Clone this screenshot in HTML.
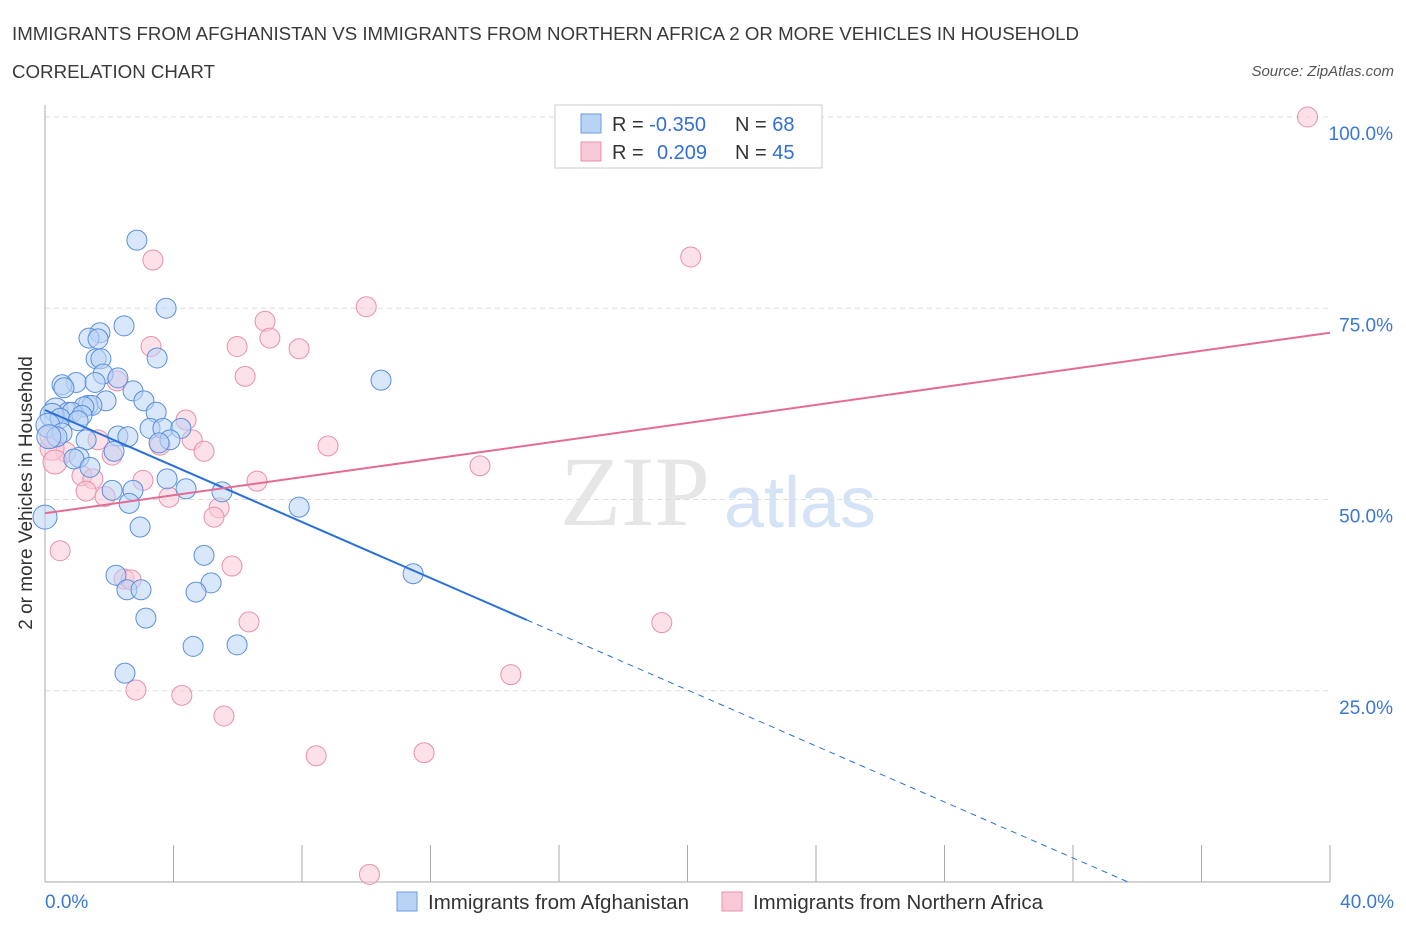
<!DOCTYPE html>
<html><head><meta charset="utf-8"><style>
body{margin:0;background:#fff;font-family:"Liberation Sans",sans-serif}
</style></head><body>
<svg width="1406" height="930" xmlns="http://www.w3.org/2000/svg">
<text x="12" y="40" font-size="18" fill="#3a3a3a" textLength="1067" lengthAdjust="spacingAndGlyphs">IMMIGRANTS FROM AFGHANISTAN VS IMMIGRANTS FROM NORTHERN AFRICA 2 OR MORE VEHICLES IN HOUSEHOLD</text>
<text x="12" y="78" font-size="18" fill="#3a3a3a" textLength="203" lengthAdjust="spacingAndGlyphs">CORRELATION CHART</text>
<text x="1394" y="76" font-size="15" font-style="italic" fill="#555" text-anchor="end">Source: ZipAtlas.com</text>
<text x="635" y="525" font-size="100" font-family="Liberation Serif" fill="#e6e6e6" text-anchor="middle">ZIP</text>
<text x="800" y="527" font-size="72" fill="#d4e3f5" text-anchor="middle">atlas</text>
<g id="grid"></g>
<line x1="45" y1="105" x2="45" y2="882" stroke="#aaa"/>
<line x1="45" y1="882" x2="1330" y2="882" stroke="#aaa"/>
<g id="xticks"></g>
<text x="32" y="493" font-size="19" fill="#333" text-anchor="middle" transform="rotate(-90 32 493)">2 or more Vehicles in Household</text>
<text x="45" y="908" font-size="19" fill="#3a78d0" text-anchor="start">0.0%</text>
<text x="1394" y="908" font-size="19" fill="#3a78d0" text-anchor="end">40.0%</text>
<g id="pts"></g>
<g id="lines"></g>
<g>
<rect x="555" y="105" width="267" height="63" fill="#fff" stroke="#ccc"/>
<rect x="581" y="114" width="20" height="19" fill="#b9d3f5" stroke="#6a9be0"/>
<rect x="581" y="142" width="20" height="19" fill="#f9c9d7" stroke="#e890ab"/>
<text x="612" y="131" font-size="20" fill="#333">R = <tspan fill="#2f6fd6">-0.350</tspan></text>
<text x="735" y="131" font-size="20" fill="#333">N = <tspan fill="#2f6fd6">68</tspan></text>
<text x="612" y="159" font-size="20" fill="#333">R = <tspan fill="#2f6fd6" x="657">0.209</tspan></text>
<text x="735" y="159" font-size="20" fill="#333">N = <tspan fill="#2f6fd6">45</tspan></text>
</g>
<g>
<rect x="397" y="892" width="20" height="19" fill="#b9d3f5" stroke="#6a9be0"/>
<text x="428" y="909" font-size="20" fill="#333" textLength="261" lengthAdjust="spacingAndGlyphs">Immigrants from Afghanistan</text>
<rect x="722" y="892" width="20" height="19" fill="#f9c9d7" stroke="#e890ab"/>
<text x="753" y="909" font-size="20" fill="#333" textLength="290" lengthAdjust="spacingAndGlyphs">Immigrants from Northern Africa</text>
</g>
</svg>
<script>
const yTicks=[25,50,75,100];
const yTickLabels=["25.0%","50.0%","75.0%","100.0%"];
const xTicks=[0,4,8,12,16,20,24,28,32,36,40];
const blueX=[2.86,3.77,2.46,1.71,1.37,1.65,1.59,1.74,3.49,1.81,2.27,0.97,1.56,0.53,0.59,2.74,1.90,3.08,1.34,1.46,1.21,0.34,0.72,0.84,3.46,1.15,0.22,0.47,1.03,0.09,3.27,3.67,4.23,0.53,2.27,0.37,0.12,2.58,1.28,3.89,3.55,2.15,1.06,0.90,1.40,3.80,4.39,2.09,2.74,5.51,2.62,7.91,0,2.96,4.95,2.21,11.46,5.17,2.55,2.99,4.70,3.14,4.61,5.98,2.49,10.46];
const blueY=[83.9,75.0,72.7,71.8,71.1,71.0,68.4,68.4,68.5,66.4,65.9,65.3,65.3,65.0,64.6,64.2,62.9,62.9,62.3,62.3,62.1,61.7,61.4,61.4,61.4,61.0,61.0,60.6,60.3,59.7,59.3,59.3,59.3,58.7,58.3,58.2,58.2,58.2,57.8,57.8,57.4,56.3,55.5,55.3,54.2,52.7,51.4,51.2,51.2,51.0,49.5,49.0,47.7,46.4,42.7,40.1,40.3,39.1,38.2,38.2,37.9,34.5,30.8,31.0,27.3,65.6];
const pinkX=[39.3,3.36,20.1,10.0,6.85,3.30,5.98,7.0,7.91,6.23,2.24,4.39,1.65,4.58,3.58,8.81,4.95,2.09,0.65,0.22,0.31,13.54,1.15,1.49,3.05,6.60,1.28,1.87,3.86,5.42,5.26,0.47,5.82,2.46,2.68,6.35,19.2,14.5,2.83,4.26,5.57,8.44,11.8,10.1,0.22];
const pinkY=[100,81.3,81.7,75.2,73.3,70.0,70.0,71.1,69.7,66.1,65.5,60.4,57.8,57.8,57.1,57.0,56.3,55.8,56.2,56.7,54.9,54.4,53.1,52.7,52.5,52.4,51.1,50.4,50.3,48.9,47.7,43.3,41.3,39.6,39.5,34.0,33.9,27.1,25.1,24.4,21.7,16.5,16.9,1.0,58.3];
const blueFit=[61.7,-1.83];
const pinkFit=[48.2,0.59];
const NS="http://www.w3.org/2000/svg";
const sx=v=>45+v/40*1285, sy=v=>882-v*7.65;
function mk(t,a,p){const e=document.createElementNS(NS,t);for(const k in a)e.setAttribute(k,a[k]);document.getElementById(p).appendChild(e);return e;}
yTicks.forEach((t,i)=>{
 const l=mk('line',{x1:45,x2:1330,y1:sy(t),y2:sy(t),stroke:'#ddd','stroke-dasharray':'5,4'},'grid');
 
 
 const tx=mk('text',{x:1393,y:sy(t)+23,'font-size':19,fill:'#3a78d0','text-anchor':'end'},'grid');
 tx.textContent=yTickLabels[i];
 
 
});
xTicks.forEach(t=>{
 const l=mk('line',{x1:sx(t),x2:sx(t),y1:845,y2:882,stroke:'#aaa'},'xticks');
 
 
});
function pts(X,Y,f,s,name){X.forEach((x,i)=>{
 const r=(x<0.35)?12:10;
 const c=mk('circle',{cx:sx(x),cy:sy(Y[i]),r:r,fill:f,'fill-opacity':0.55,stroke:s,'stroke-width':1},'pts');
 
 
});}
pts(pinkX,pinkY,'#f9c9d7','#e890ab','point-northern-africa');
pts(blueX,blueY,'#b9d3f5','#5a8fdd','point-afghanistan');
const bl=mk('line',{x1:sx(0),y1:sy(blueFit[0]),x2:sx(15),y2:sy(blueFit[0]+blueFit[1]*15),stroke:'#2a70d8','stroke-width':2},'lines');


const xe=-blueFit[0]/blueFit[1];
const bd=mk('line',{x1:sx(15),y1:sy(blueFit[0]+blueFit[1]*15),x2:sx(xe),y2:sy(0),stroke:'#2a70d8','stroke-width':1,'stroke-dasharray':'6,5'},'lines');


const pl=mk('line',{x1:sx(0),y1:sy(pinkFit[0]),x2:sx(40),y2:sy(pinkFit[0]+pinkFit[1]*40),stroke:'#e56b93','stroke-width':2},'lines');


</script>
</body></html>
